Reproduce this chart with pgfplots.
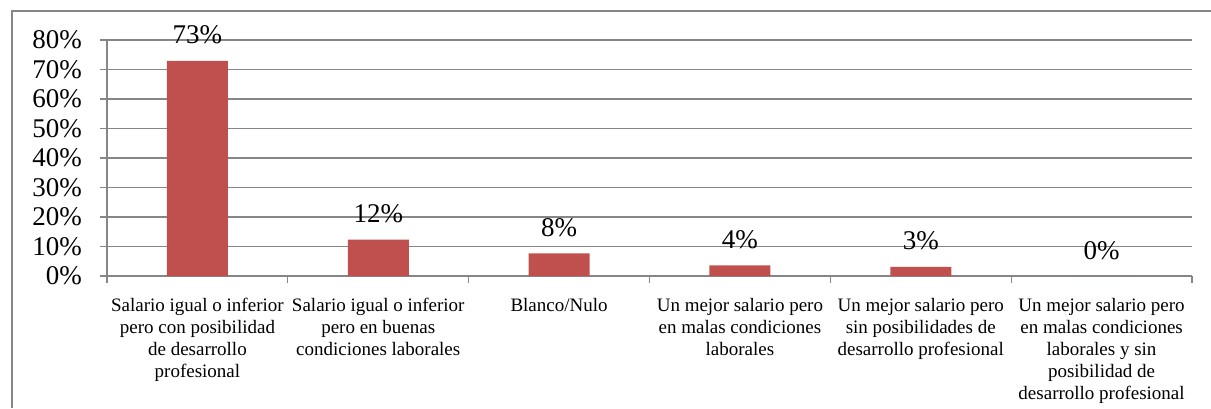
\documentclass[border=0pt]{standalone}
\usepackage{fontspec}
\setmainfont{Liberation Serif}
\usepackage{pgfplots}
\pgfplotsset{compat=1.18}
\definecolor{barred}{RGB}{192,80,77}
\definecolor{gridgray}{RGB}{134,134,134}
\begin{document}
\begin{tikzpicture}
\useasboundingbox (0,0) rectangle (605.5pt,204pt);
\draw[gridgray, line width=0.75pt] (6pt,0) -- (6pt,198.5pt) -- (606pt,198.5pt);
\begin{axis}[
  at={(53.5pt,66pt)}, anchor=south west,
  scale only axis, width=542.5pt, height=118pt,
  xmin=-0.5, xmax=5.5, ymin=0, ymax=80,
  axis x line*=bottom, axis y line*=left,
  axis line style={gridgray, line width=0.6pt, -},
  ytick={0,10,...,80},
  yticklabel={\pgfmathprintnumber{\tick}\%},
  /pgf/number format/assume math mode=true,
  yticklabel style={font=\fontsize{13.5}{13.5}\selectfont, xshift=-5.5pt},
  ymajorgrids, grid style={gridgray, line width=0.6pt},
  tick style={gridgray, line width=0.6pt},
  tick align=outside,
  major tick length=3.5pt,
  xtick={-0.5,0.5,...,5.5},
  x tick label as interval,
  xticklabels={
    {Salario igual o inferior\\pero con posibilidad\\de desarrollo\\profesional},
    {Salario igual o inferior\\pero en buenas\\condiciones laborales},
    {Blanco/Nulo},
    {Un mejor salario pero\\en malas condiciones\\laborales},
    {Un mejor salario pero\\sin posibilidades de\\desarrollo profesional},
    {Un mejor salario pero\\en malas condiciones\\laborales y sin\\posibilidad de\\desarrollo profesional}},
  xticklabel style={font=\fontsize{9.5}{11}\selectfont, align=center, anchor=north, yshift=-4pt},
  ybar, bar width=30.5pt,
  nodes near coords={\pgfmathprintnumber[fixed,precision=0]{\pgfplotspointmeta}\%},
  nodes near coords style={font=\fontsize{13.5}{13.5}\selectfont, anchor=base, yshift=8.5pt, text=black},
]
\addplot[fill=barred, draw=none] coordinates {(0,72.9) (1,12.3) (2,7.7) (3,3.6) (4,3.1) (5,0)};
\end{axis}
\end{tikzpicture}
\end{document}
